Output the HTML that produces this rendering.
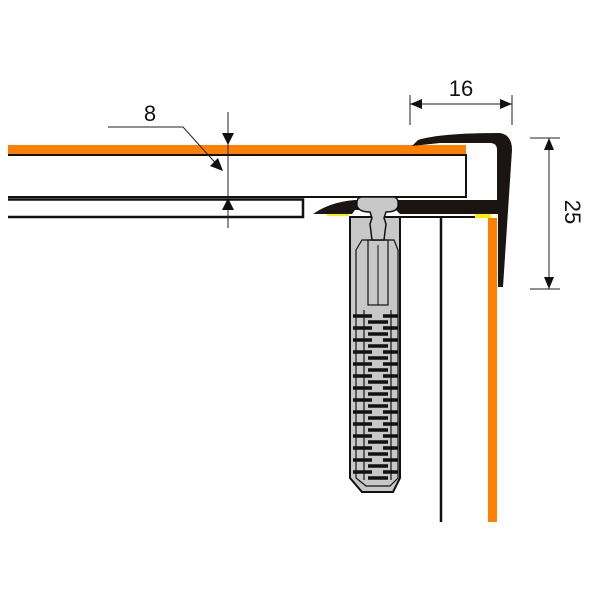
<!DOCTYPE html>
<html><head><style>body{margin:0;background:#fff}svg{display:block}</style></head>
<body>
<svg width="600" height="600" viewBox="0 0 600 600" xmlns="http://www.w3.org/2000/svg" font-family="Liberation Sans, sans-serif">
<!-- board -->
<rect x="8" y="145" width="458" height="10" fill="#ff7f00"/>
<path d="M8 155 H466 V197 H8" fill="none" stroke="#111" stroke-width="2"/>
<path d="M8 199.5 H303 V217 H8" fill="none" stroke="#111" stroke-width="2.5"/>
<!-- wall lines -->
<line x1="441" y1="217" x2="441" y2="522" stroke="#111" stroke-width="2.5"/>
<rect x="488" y="218" width="9" height="304" fill="#ff7f00"/>
<line x1="400" y1="217" x2="490" y2="217" stroke="#111" stroke-width="2"/>
<!-- yellow -->
<rect x="327" y="210" width="22" height="6" fill="#ffee00"/>
<rect x="475" y="210" width="16" height="8" fill="#ffee00"/>
<!-- anchor body -->
<path d="M350 217 L350 478 L362 492 L393 492 L400 478 L400 217 Z" fill="#c8c8c8" stroke="#111" stroke-width="2"/>
<path d="M356 250 L362 240 L394 240 L398 250 L398 478 L390 486 L366 486 L356 478 Z" fill="#c8c8c8" stroke="#111" stroke-width="1.2"/>
<rect x="368" y="240" width="20" height="65" fill="none" stroke="#111" stroke-width="1.2"/>
<line x1="378" y1="245" x2="378" y2="305" stroke="#111" stroke-width="1"/>
<g stroke="#111" stroke-width="3.5">
<path d="M353 316 H372 M383 316 H398 M353 328 H372 M383 328 H398 M353 340 H372 M383 340 H398 M353 352 H372 M383 352 H398 M353 364 H372 M383 364 H398 M353 376 H372 M383 376 H398 M353 388 H372 M383 388 H398 M353 400 H372 M383 400 H398 M353 412 H372 M383 412 H398 M353 424 H372 M383 424 H398 M353 436 H372 M383 436 H398 M353 448 H372 M383 448 H398 M353 460 H372 M383 460 H398 M353 472 H372 M383 472 H398"/>
<path d="M368 322 H388 M368 334 H388 M368 346 H388 M368 358 H388 M368 370 H388 M368 382 H388 M368 394 H388 M368 406 H388 M368 418 H388 M368 430 H388 M368 442 H388 M368 454 H388 M368 466 H388 M368 478 H388"/>
</g>
<g stroke="#111" stroke-width="1.2" fill="none">
<line x1="364" y1="310" x2="364" y2="480"/><line x1="391" y1="310" x2="391" y2="480"/>
</g>
<!-- profile -->
<path d="M313 214 Q330 202 355 200 L497 200 L497 150 Q497 143 490 143 L440 143 L412 146 L418 140 Q440 133 500 133 Q512 135 512 150 L503 287 L498 287 L498 214 L400 214 L396 210 L355 210 L352 214 Z" fill="#1a1512"/>
<!-- anchor head -->
<path d="M362 197 Q356 197 357 206 Q359 212 370 212 L372 218 L370 224 L372 240 L384 240 L386 224 L384 218 L386 212 Q397 212 398 206 Q399 197 393 197 Z" fill="#c8c8c8" stroke="#111" stroke-width="1.5"/>
<!-- dimension 8 -->
<g stroke="#222" stroke-width="1" fill="none">
<line x1="228" y1="112" x2="228" y2="228"/>
<polyline points="108,127 183,127 220,168"/>
</g>
<polygon points="228,145 222,133 234,133" fill="#111"/>
<polygon points="228,198 222,210 234,210" fill="#111"/>
<polygon points="223,171 210,166 218,158" fill="#111"/>
<text x="150" y="121" font-size="22" text-anchor="middle" fill="#111">8</text>
<!-- dimension 16 -->
<g stroke="#222" stroke-width="1">
<line x1="410" y1="95" x2="410" y2="125"/>
<line x1="512" y1="95" x2="512" y2="125"/>
<line x1="410" y1="104" x2="512" y2="104"/>
</g>
<polygon points="410,104 422,99 422,109" fill="#111"/>
<polygon points="512,104 500,99 500,109" fill="#111"/>
<text x="461" y="96" font-size="22" text-anchor="middle" fill="#111">16</text>
<!-- dimension 25 -->
<g stroke="#222" stroke-width="1">
<line x1="530" y1="138" x2="560" y2="138"/>
<line x1="530" y1="289" x2="560" y2="289"/>
<line x1="549" y1="138" x2="549" y2="289"/>
</g>
<polygon points="549,138 544,150 554,150" fill="#111"/>
<polygon points="549,289 544,277 554,277" fill="#111"/>
<text x="0" y="0" font-size="22" text-anchor="middle" fill="#111" transform="translate(565,212) rotate(90)">25</text>
</svg>
</body></html>
